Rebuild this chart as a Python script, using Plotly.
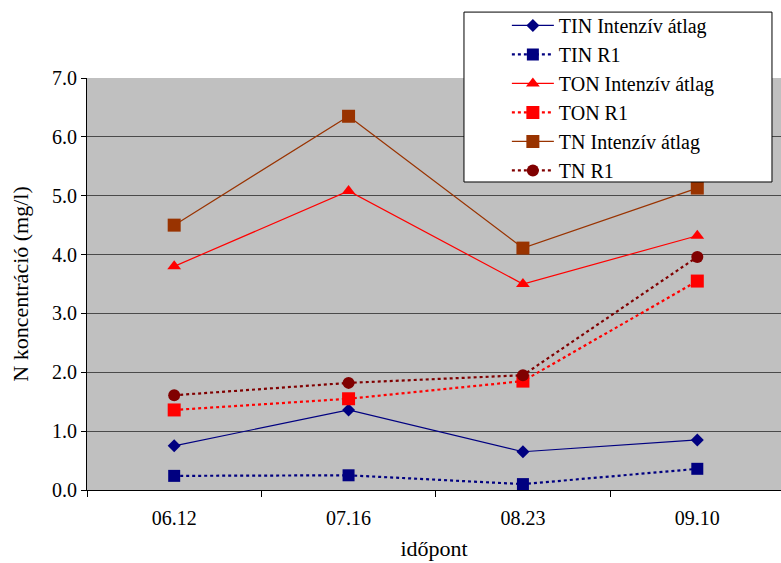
import plotly.graph_objects as go

# Sampling dates
dates = ["06.12", "07.16", "08.23", "09.10"]

# N concentrations (mg/l)
tin_intenziv = [0.75, 1.36, 0.65, 0.85]
tin_r1 = [0.24, 0.25, 0.10, 0.36]
ton_intenziv = [3.80, 5.08, 3.50, 4.32]
ton_r1 = [1.36, 1.55, 1.85, 3.55]
tn_intenziv = [4.50, 6.35, 4.11, 5.13]
tn_r1 = [1.61, 1.82, 1.95, 3.96]

y_ticks = [0, 1, 2, 3, 4, 5, 6, 7]

series = [
    ("TIN Intenzív átlag", tin_intenziv, "#000080", "solid", 1.2, "diamond", 10),
    ("TIN R1", tin_r1, "#000080", "dot", 2.2, "square", 12),
    ("TON Intenzív átlag", ton_intenziv, "#FF0000", "solid", 1.2, "triangle-up", 12),
    ("TON R1", ton_r1, "#FF0000", "dot", 2.2, "square", 13),
    ("TN Intenzív átlag", tn_intenziv, "#993300", "solid", 1.2, "square", 13),
    ("TN R1", tn_r1, "#800000", "dot", 2.2, "circle", 12),
]

fig = go.Figure()
for name, vals, color, dash, width, symbol, size in series:
    fig.add_trace(go.Scatter(
        x=dates, y=vals, name=name, mode="lines+markers",
        line=dict(color=color, dash=dash, width=width),
        marker=dict(symbol=symbol, size=size, color=color),
    ))

serif = "Liberation Serif"

# white legend panel with black frame, drawn over the plot area
fig.add_shape(
    type="rect", xref="paper", yref="paper",
    x0=0.5432, x1=0.987, y0=0.7476, y1=1.160,
    fillcolor="white", line=dict(color="black", width=1), layer="above",
)

fig.update_layout(
    width=781, height=563,
    margin=dict(l=87, r=0, t=78, b=73),
    paper_bgcolor="white",
    plot_bgcolor="#C0C0C0",
    font=dict(family=serif, size=19, color="black"),
    showlegend=True,
    legend=dict(
        x=0.605, y=1.175, xanchor="left", yanchor="top",
        bgcolor="rgba(0,0,0,0)", borderwidth=0,
        font=dict(family=serif, size=20, color="black"),
        itemwidth=42,
    ),
    xaxis=dict(
        type="category", range=[-0.5, 3.48],
        showgrid=False, showline=True, linecolor="black", linewidth=1,
        ticks="outside", tickson="boundaries", ticklen=6, tickcolor="black",
        ticklabelstandoff=10,
        title=dict(text="időpont", font=dict(family=serif, size=22), standoff=12),
        tickfont=dict(family=serif, size=20),
    ),
    yaxis=dict(
        range=[0, 7], tickvals=y_ticks, tickformat=".1f",
        showgrid=True, gridcolor="#4a4a4a", gridwidth=1,
        showline=True, linecolor="black", linewidth=1,
        ticks="outside", ticklen=5, tickcolor="black",
        zeroline=False,
        title=dict(text="N koncentráció (mg/l)", font=dict(family=serif, size=22), standoff=17),
        tickfont=dict(family=serif, size=20),
    ),
)

fig.write_html("out.html")
